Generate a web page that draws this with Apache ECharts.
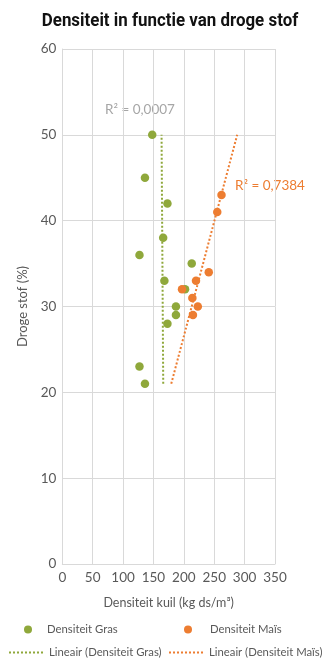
<!DOCTYPE html>
<html><head><meta charset="utf-8">
<script src="https://cdn.jsdelivr.net/npm/echarts@6/dist/echarts.min.js"></script>
<style>html,body{margin:0;padding:0;background:#fff}#c{width:332px;height:669px}</style>
</head><body><div id="c"></div>
<script>
// Data
const grasX = [148, 136, 173, 166, 127, 213, 168, 202, 187, 187, 173, 127, 136];
const grasY = [50, 45, 42, 38, 36, 35, 33, 32, 30, 29, 28, 23, 21];
const maisX = [262, 255, 241, 220, 197, 214, 223, 215];
const maisY = [43, 41, 34, 33, 32, 31, 30, 29];
const xTicks = [0, 350, 50];
const yTicks = [0, 60, 10];
const r2Gras = 'R² = 0,0007';
const r2Mais = 'R² = 0,7384';

const GREEN = '#8fa83b', ORANGE = '#ed7d31', TXT = '#595959', GRID = '#d9d9d9';
const FONT = 'Lato';

function pairs(xs, ys){ return xs.map((x,i)=>[x, ys[i]]); }
const allY = grasY.concat(maisY);
const yLo = Math.min(...allY), yHi = Math.max(...allY);
function trend(xs, ys){
  const n = xs.length;
  const mx = xs.reduce((a,b)=>a+b,0)/n, my = ys.reduce((a,b)=>a+b,0)/n;
  let sxy=0, syy=0;
  for(let i=0;i<n;i++){ sxy+=(xs[i]-mx)*(ys[i]-my); syy+=(ys[i]-my)*(ys[i]-my); }
  const b = sxy/syy;
  return [[mx + b*(yLo-my), yLo], [mx + b*(yHi-my), yHi]];
}

const chart = echarts.init(document.getElementById('c'), null, {renderer:'canvas'});
const legText = {color:TXT, fontSize:11.3, fontFamily:FONT};
chart.setOption({
  animation:false,
  textStyle:{fontFamily:FONT},
  grid:{left:62.3, right:57, top:49, bottom:105, containLabel:false},
  xAxis:{type:'value', min:xTicks[0], max:xTicks[1], interval:xTicks[2],
    name:'Densiteit kuil (kg ds/m³)', nameLocation:'middle', nameGap:32,
    nameTextStyle:{color:TXT, fontSize:12.5, fontFamily:FONT},
    axisLine:{show:true, lineStyle:{color:GRID}}, axisTick:{show:false},
    axisLabel:{color:TXT, fontSize:13.5, margin:7, fontFamily:FONT},
    splitLine:{show:true, lineStyle:{color:GRID}}},
  yAxis:{type:'value', min:yTicks[0], max:yTicks[1], interval:yTicks[2],
    name:'Droge stof (%)', nameLocation:'middle', nameGap:29, nameRotate:90,
    nameTextStyle:{color:TXT, fontSize:13, fontFamily:FONT},
    axisLine:{show:true, lineStyle:{color:GRID}}, axisTick:{show:false},
    axisLabel:{color:TXT, fontSize:13.5, margin:6, fontFamily:FONT},
    splitLine:{show:true, lineStyle:{color:GRID}}},
  legend:[
    {data:[{name:'Densiteit Gras', icon:'circle'}], left:24, top:624, itemWidth:8, itemHeight:8, padding:0,
      textStyle:Object.assign({padding:[0,0,0,10]}, legText)},
    {data:[{name:'Densiteit Maïs', icon:'circle'}], left:184, top:624, itemWidth:8, itemHeight:8, padding:0,
      textStyle:Object.assign({padding:[0,0,0,13]}, legText)},
    {data:['Lineair (Densiteit Gras)'], left:8, top:647, itemWidth:35, itemHeight:8, padding:0,
      itemStyle:{opacity:0, borderWidth:0}, textStyle:legText},
    {data:['Lineair (Densiteit Maïs)'], left:168, top:647, itemWidth:35, itemHeight:8, padding:0,
      itemStyle:{opacity:0, borderWidth:0}, textStyle:legText}
  ],
  series:[
    {name:'Lineair (Densiteit Gras)', type:'line', data:trend(grasX, grasY), symbol:'none',
      lineStyle:{color:GREEN, width:2, type:[2,2]}, itemStyle:{color:GREEN}, z:1},
    {name:'Lineair (Densiteit Maïs)', type:'line', data:trend(maisX, maisY), symbol:'none',
      lineStyle:{color:ORANGE, width:2, type:[2,2]}, itemStyle:{color:ORANGE}, z:1},
    {name:'Densiteit Gras', type:'scatter', data:pairs(grasX, grasY), symbolSize:8.5,
      itemStyle:{color:GREEN, opacity:1}, z:3},
    {name:'Densiteit Maïs', type:'scatter', data:pairs(maisX, maisY), symbolSize:8.5,
      itemStyle:{color:ORANGE, opacity:1}, z:4}
  ],
  graphic:[
    {type:'text', x:170, y:12, scaleX:0.89, originX:0,
      style:{text:'Densiteit in functie van droge stof', fontFamily:'Roboto', fontWeight:'bold', fontSize:19, fill:'#111', align:'center', verticalAlign:'top'}},
    {type:'text', left:105, top:103, style:{text:r2Gras, fontFamily:FONT, fontSize:13.5, fill:'#a6a6a6'}},
    {type:'text', left:235, top:179, style:{text:r2Mais, fontFamily:FONT, fontSize:13.5, fill:ORANGE}}
  ]
});
</script></body></html>
